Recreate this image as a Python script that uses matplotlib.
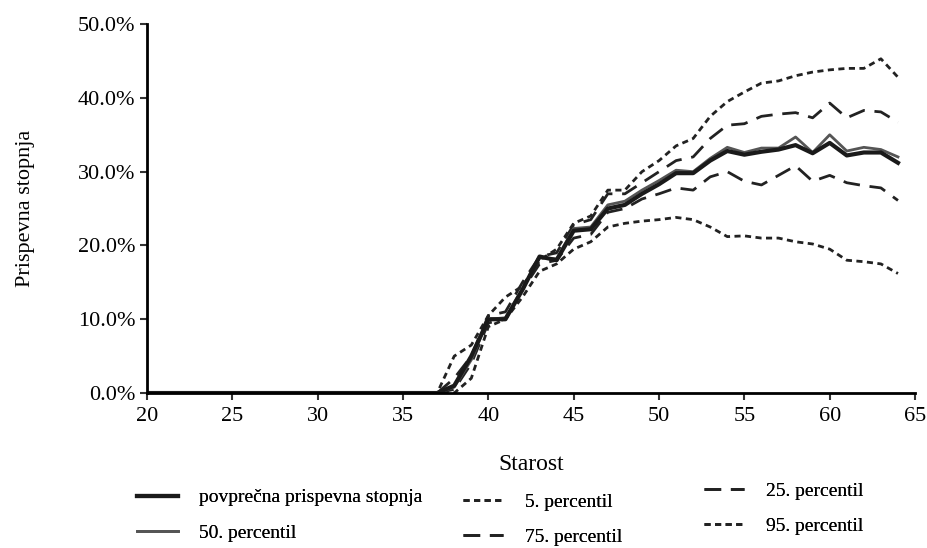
import matplotlib.pyplot as plt
from matplotlib.ticker import PercentFormatter

plt.rcParams['font.family'] = ['Liberation Serif', 'DejaVu Serif']

# starost 20..64
ages = list(range(20, 65))
zeros = [0.0] * 17  # 20..36

# prispevna stopnja v %, od 37 do 64
mean_rate = zeros + [0.0, 1.0, 5.0, 10.0, 10.0, 14.0, 18.5, 18.0, 22.0, 22.2,
                     25.0, 25.5, 27.0, 28.3, 29.8, 29.8, 31.5, 32.8, 32.3, 32.7,
                     33.0, 33.6, 32.5, 33.9, 32.2, 32.6, 32.6, 31.2]
p50 = zeros + [0.0, 0.8, 4.5, 10.0, 10.2, 14.2, 18.3, 18.2, 22.3, 22.5,
               25.5, 26.0, 27.5, 28.8, 30.2, 30.0, 31.8, 33.3, 32.6, 33.2,
               33.2, 34.7, 32.6, 35.0, 32.8, 33.3, 33.0, 32.0]
p5 = zeros + [0.0, 0.0, 2.0, 9.0, 10.0, 13.0, 16.5, 17.5, 19.5, 20.5,
              22.5, 23.0, 23.3, 23.5, 23.8, 23.5, 22.5, 21.2, 21.3, 21.0,
              21.0, 20.5, 20.2, 19.5, 18.0, 17.8, 17.5, 16.2]
p25 = zeros + [0.0, 0.5, 4.0, 9.5, 10.0, 14.0, 17.5, 18.0, 21.0, 21.5,
               24.5, 25.0, 26.3, 27.0, 27.8, 27.5, 29.3, 30.0, 28.7, 28.2,
               29.5, 30.8, 28.7, 29.5, 28.5, 28.1, 27.8, 26.1]
p75 = zeros + [0.0, 2.0, 5.0, 10.5, 11.0, 15.0, 18.5, 19.0, 22.8, 23.5,
               27.0, 27.0, 28.5, 30.0, 31.5, 32.0, 34.5, 36.3, 36.5, 37.5,
               37.8, 38.0, 37.3, 39.3, 37.3, 38.3, 38.1, 36.7]
p95 = zeros + [0.0, 5.0, 6.5, 10.5, 13.0, 14.5, 18.0, 19.5, 23.0, 24.0,
               27.5, 27.5, 30.0, 31.5, 33.5, 34.5, 37.5, 39.5, 40.8, 42.0,
               42.3, 43.0, 43.5, 43.8, 44.0, 44.0, 45.3, 42.8]

fig = plt.figure(figsize=(9.27, 5.48), dpi=100)
ax = fig.add_axes([0.1586, 0.2828, 0.8285, 0.6732])

short_dash = (0, (2.2, 1.6))
long_dash = (0, (6, 3.5))

l5, = ax.plot(ages, p5, color='#222222', lw=2.0, ls=short_dash)
l95, = ax.plot(ages, p95, color='#222222', lw=2.0, ls=short_dash)
l25, = ax.plot(ages, p25, color='#222222', lw=2.0, ls=long_dash)
l75, = ax.plot(ages, p75, color='#222222', lw=2.0, ls=long_dash)
l50, = ax.plot(ages, p50, color='#555555', lw=2.0)
lmean, = ax.plot(ages, mean_rate, color='#1a1a1a', lw=3.0)

ax.set_xlim(20, 65)
ax.set_ylim(0, 50)
ax.set_xticks(range(20, 66, 5))
ax.set_yticks(range(0, 51, 10))
ax.yaxis.set_major_formatter(PercentFormatter(decimals=1))

for side in ('top', 'right'):
    ax.spines[side].set_visible(False)
for side in ('left', 'bottom'):
    ax.spines[side].set_linewidth(2.0)
ax.tick_params(axis='both', labelsize=16, width=1.5, length=5, color='#333333')
ax.tick_params(axis='x', pad=5)

ax.set_xlabel('Starost', fontsize=17, labelpad=20)
ax.set_ylabel('Prispevna stopnja', fontsize=16, labelpad=31)

# legenda pod grafom: trije stolpci po dva vnosa
legend_cols = [
    ([lmean, l50], ['povprečna prispevna stopnja', '50. percentil'], 0.148, 0.108),
    ([l5, l75], ['5. percentil', '75. percentil'], 0.499, 0.100),
    ([l25, l95], ['25. percentil', '95. percentil'], 0.759, 0.120),
]
for hs, labs, x0, y0 in legend_cols:
    leg = fig.legend(hs, labs, loc='upper left', bbox_to_anchor=(x0, y0),
                     frameon=False, fontsize=14, handlelength=2.1,
                     handletextpad=1.1, labelspacing=0.9, borderaxespad=0,
                     borderpad=0)
    fig.add_artist(leg)

fig.savefig('out.png', dpi=100)
